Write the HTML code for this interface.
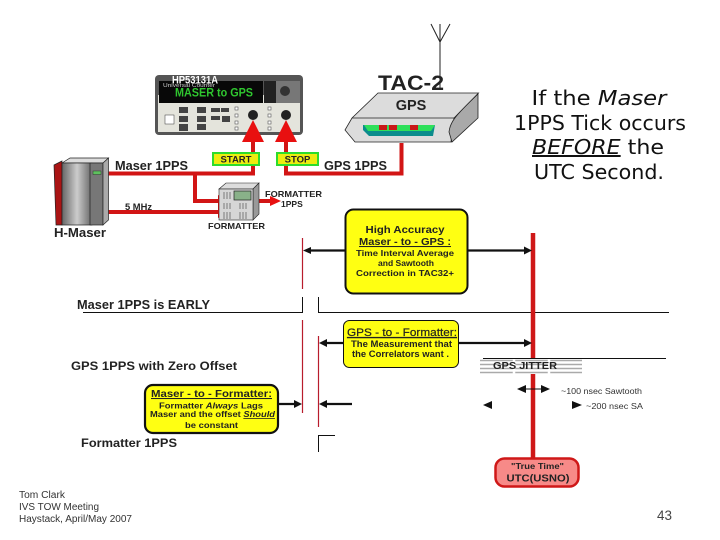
<!DOCTYPE html>
<html><head><meta charset="utf-8"><style>
html,body{margin:0;padding:0;background:#fff;width:720px;height:540px;overflow:hidden}
svg{display:block;filter:blur(.35px)}
text{font-family:"Liberation Sans",sans-serif}
.b{font-weight:bold}
</style></head><body>
<svg width="720" height="540" viewBox="0 0 720 540" xmlns="http://www.w3.org/2000/svg">
<defs>
<linearGradient id="mg" x1="0" x2="1" y1="0" y2="0"><stop offset="0" stop-color="#666"/><stop offset=".5" stop-color="#ccc"/><stop offset="1" stop-color="#666"/></linearGradient>
</defs>
<!-- Antenna -->
<g stroke="#222" fill="none" stroke-width="1"><path d="M440 90V24M431 24L440 42L450 24"/></g>
<!-- Counter -->
<rect x="155" y="75" width="148" height="60" rx="4" fill="#555"/>
<rect x="158" y="95" width="142" height="37" fill="#e4e4dc"/>
<rect x="159" y="81" width="104" height="22" fill="#080808"/>
<rect x="264" y="81" width="36" height="22" fill="#777"/>
<rect x="264" y="81" width="12" height="22" fill="#222"/>
<circle cx="285" cy="91" r="5" fill="#333"/>
<g fill="#444"><rect x="179" y="107" width="9" height="6"/><rect x="197" y="107" width="9" height="6"/><rect x="179" y="116" width="9" height="6"/><rect x="197" y="116" width="9" height="6"/><rect x="179" y="124" width="9" height="7"/><rect x="197" y="124" width="9" height="6"/><rect x="211" y="108" width="9" height="4"/><rect x="211" y="116" width="9" height="4"/><rect x="221" y="108" width="8" height="4"/><rect x="222" y="116" width="8" height="6"/></g>
<rect x="165" y="115" width="9" height="9" fill="#fff" stroke="#333" stroke-width=".5"/>
<g fill="#fff" stroke="#555" stroke-width=".6"><rect x="235" y="107" width="3" height="3"/><rect x="235" y="114" width="3" height="3"/><rect x="235" y="121" width="3" height="3"/><rect x="235" y="127" width="3" height="3"/><rect x="268" y="107" width="3" height="3"/><rect x="268" y="114" width="3" height="3"/><rect x="268" y="121" width="3" height="3"/><rect x="268" y="127" width="3" height="3"/></g>
<circle cx="253" cy="115" r="5" fill="#222"/><circle cx="286" cy="115" r="5" fill="#222"/>
<text x="172" y="83.500" font-size="11" class="b" fill="#fff" textLength="46" lengthAdjust="spacingAndGlyphs">HP53131A</text>
<text x="163" y="87" font-size="5" fill="#ccc" textLength="52" lengthAdjust="spacingAndGlyphs">Universal Counter</text>
<text x="175" y="96.500" font-size="12" class="b" fill="#2fc62f" textLength="78" lengthAdjust="spacingAndGlyphs">MASER to GPS</text>
<!-- Red wires -->
<g fill="none" stroke="#d21515" stroke-width="4">
<path d="M108 173.500H253V140"/><path d="M286 140V173.500H401.500V143"/><path d="M195 173V201H220"/><path d="M107 212H218"/><path d="M258 201H272"/>
</g>
<g fill="#e81010"><path d="M253 120L242 142H264Z"/><path d="M286 120L275 142H297Z"/><path d="M218 195V207L229 201Z"/><path d="M218 206V218L229 212Z"/><path d="M270 196V206L281 201Z"/></g>
<!-- Start / Stop -->
<rect x="213" y="153" width="46" height="12" fill="#ecec10" stroke="#2ddc2d" stroke-width="2"/>
<rect x="277" y="153" width="41" height="12" fill="#ecec10" stroke="#2ddc2d" stroke-width="2"/>
<text x="236" y="162.500" font-size="9.500" class="b" text-anchor="middle" fill="#222">START</text>
<text x="297.500" y="162.500" font-size="9.500" class="b" text-anchor="middle" fill="#222">STOP</text>
<!-- H-Maser -->
<path d="M54 165L62 161V225H56Z" fill="#aa1414" stroke="#222" stroke-width=".7"/>
<path d="M62 163L70 158H108.500L103 163Z" fill="#ddd" stroke="#222" stroke-width=".7"/>
<rect x="62" y="163" width="30" height="62" fill="url(#mg)" stroke="#222" stroke-width=".7"/>
<rect x="90" y="163" width="13" height="62" fill="#777" stroke="#222" stroke-width=".7"/>
<path d="M103 163L108.500 158V220L103 225Z" fill="#aaa" stroke="#222" stroke-width=".7"/>
<rect x="93" y="171" width="8" height="3.500" fill="#5ec05e" stroke="#222" stroke-width=".4"/>
<!-- Formatter -->
<path d="M219 189L226 183H259L253 189Z" fill="#ddd" stroke="#222" stroke-width=".6"/>
<path d="M253 189L259 183V214L253 220Z" fill="#999" stroke="#222" stroke-width=".6"/>
<rect x="219" y="189" width="34" height="31" fill="#d6d6d6" stroke="#222" stroke-width=".6"/>
<rect x="234" y="191" width="17" height="9" fill="#89b189" stroke="#222" stroke-width=".7"/>
<g stroke="#555" stroke-width=".7"><path d="M224 192v7M227 192v7M230 192v7M224 203v6M227 203v6M230 203v6M240 203v6M243 203v6M246 203v6M224 212v7M227 212v7M230 212v7M240 212v7M243 212v7M246 212v7"/></g>
<!-- Device TAC-2 -->
<path d="M378 93H478.500L454 118L451 142H355L345 130L352 118Z" fill="#dcdcdc" stroke="#222" stroke-width=".8"/>
<path d="M478 93V118L452 142L449 132C450 122 455 116 478 94Z" fill="#a9a9a9" stroke="#222" stroke-width=".8"/>
<path d="M352 118H454" stroke="#222" fill="none" stroke-width=".8"/>
<path d="M363 125H435L433 136H369L363 130Z" fill="#0b8c8c"/>
<path d="M364 125H435L431 131H368Z" fill="#2ee05a"/>
<g fill="#c81818"><rect x="379" y="125" width="8" height="5"/><rect x="389" y="125" width="8" height="5"/><rect x="410" y="125" width="8" height="5"/></g>
<text x="378" y="90" font-size="21" class="b" fill="#222" textLength="66" lengthAdjust="spacingAndGlyphs">TAC-2</text>
<text x="411" y="110" font-size="14.500" class="b" text-anchor="middle" fill="#222">GPS</text>
<!-- Wire labels -->
<g fill="#222">
<text x="115" y="170" font-size="12.500" class="b" textLength="73" lengthAdjust="spacingAndGlyphs">Maser 1PPS</text>
<text x="324" y="170" font-size="12.500" class="b" textLength="63" lengthAdjust="spacingAndGlyphs">GPS 1PPS</text>
<text x="125" y="210" font-size="9" class="b" textLength="27" lengthAdjust="spacingAndGlyphs">5 MHz</text>
<text x="54" y="237" font-size="13" class="b" textLength="52" lengthAdjust="spacingAndGlyphs">H-Maser</text>
<text x="208" y="229" font-size="8.500" class="b" textLength="57" lengthAdjust="spacingAndGlyphs">FORMATTER</text>
<text x="265" y="197" font-size="8.500" class="b" textLength="57" lengthAdjust="spacingAndGlyphs">FORMATTER</text>
<text x="281" y="207" font-size="8.500" class="b">1PPS</text>
<text x="77" y="309" font-size="12.500" class="b" textLength="133" lengthAdjust="spacingAndGlyphs">Maser 1PPS is EARLY</text>
<text x="71" y="370" font-size="12" class="b" textLength="166" lengthAdjust="spacingAndGlyphs">GPS 1PPS with Zero Offset</text>
<text x="81" y="447" font-size="12" class="b" textLength="96" lengthAdjust="spacingAndGlyphs">Formatter 1PPS</text>
</g>
<!-- Right caption -->
<g font-size="20" fill="#111" text-anchor="middle">
<text x="599" y="105" style="font-family:'DejaVu Sans',sans-serif" textLength="135" lengthAdjust="spacingAndGlyphs">If the <tspan font-style="italic">Maser</tspan></text>
<text x="600" y="130" style="font-family:'DejaVu Sans',sans-serif" textLength="172" lengthAdjust="spacingAndGlyphs">1PPS Tick occurs</text>
<text x="598" y="154" style="font-family:'DejaVu Sans',sans-serif" textLength="132" lengthAdjust="spacingAndGlyphs"><tspan font-style="italic" text-decoration="underline">BEFORE</tspan>  the</text>
<text x="599" y="179" style="font-family:'DejaVu Sans',sans-serif" textLength="130" lengthAdjust="spacingAndGlyphs">UTC Second.</text>
</g>
<!-- Timing lines -->
<g fill="none" stroke="#111" stroke-width="1">
<path d="M83 312.500H302.500V297"/><path d="M318.500 297V312.500H669"/><path d="M318.500 452V435.500H335"/>
</g>
<path d="M302.500 238V289M302.500 320V413M318.500 336V427" stroke="#b81c2c" stroke-width="1.200" fill="none"/>
<path d="M533 233V458" stroke="#cf1818" stroke-width="4.500" fill="none"/>
<path d="M483 358.500H666" stroke="#111" stroke-width="1" fill="none"/>
<!-- Black arrows -->
<g fill="none" stroke="#111" stroke-width="2.200">
<path d="M308 250.500H345"/><path d="M468 250.500H526"/><path d="M325 343H345"/><path d="M458 343H526"/><path d="M278 404H296"/><path d="M325 404H352"/>
</g>
<g fill="#111">
<path d="M303 250.500L311 247V254Z"/>
<path d="M524 246.500V254.500L532 250.500Z"/><path d="M319 343L327 339V347Z"/><path d="M524 339V347L532 343Z"/><path d="M294 400V408L302 404Z"/><path d="M319 404L327 400V408Z"/>
<path d="M483 405L492 401V409Z"/><path d="M572 401V409L582 405Z"/>
<path d="M517 389L526 385V393Z"/><path d="M541 385V393L550 389Z"/>
</g>
<path d="M520 389H548" stroke="#111" stroke-width="1"/>
<!-- Yellow boxes -->
<rect x="345.500" y="209.500" width="122" height="84" rx="8" fill="#ffff12" stroke="#111" stroke-width="2"/>
<rect x="343.500" y="320.500" width="115" height="47" rx="6" fill="#ffff12" stroke="#111" stroke-width="1"/>
<rect x="145" y="385" width="133" height="48" rx="8" fill="#ffff12" stroke="#111" stroke-width="2.200"/>
<g fill="#222" text-anchor="middle">
<text x="405" y="233" font-size="10.500" class="b" textLength="79" lengthAdjust="spacingAndGlyphs">High Accuracy</text>
<text x="405" y="245" font-size="10.500" class="b" text-decoration="underline" textLength="92" lengthAdjust="spacingAndGlyphs">Maser - to - GPS :</text>
<text x="405" y="256" font-size="8.500" class="b" textLength="98" lengthAdjust="spacingAndGlyphs">Time Interval Average</text>
<text x="406" y="266" font-size="8.500" class="b" textLength="56" lengthAdjust="spacingAndGlyphs">and Sawtooth</text>
<text x="405" y="276" font-size="8.500" class="b" textLength="98" lengthAdjust="spacingAndGlyphs">Correction  in TAC32+</text>
<text x="402" y="336" font-size="11" text-decoration="underline" stroke="#222" stroke-width=".2" textLength="110" lengthAdjust="spacingAndGlyphs">GPS - to - Formatter:</text>
<text x="401.500" y="347" font-size="9" class="b" textLength="101" lengthAdjust="spacingAndGlyphs">The Measurement that</text>
<text x="400.500" y="357" font-size="9" class="b" textLength="97" lengthAdjust="spacingAndGlyphs">the Correlators want .</text>
<text x="211.500" y="397" font-size="10.500" class="b" text-decoration="underline" textLength="121" lengthAdjust="spacingAndGlyphs">Maser - to -  Formatter:</text>
<text x="211" y="408.500" font-size="8.500" class="b" textLength="104" lengthAdjust="spacingAndGlyphs">Formatter <tspan font-style="italic">Always</tspan> Lags</text>
<text x="212.500" y="417" font-size="8" class="b" textLength="125" lengthAdjust="spacingAndGlyphs">Maser and the offset <tspan font-style="italic" text-decoration="underline">Should</tspan></text>
<text x="211.500" y="428" font-size="8.500" class="b" textLength="53" lengthAdjust="spacingAndGlyphs">be constant</text>
</g>
<!-- Jitter -->
<rect x="480" y="359" width="102" height="15" fill="#fff"/>
<g stroke="#aaa" stroke-width="1.500"><path d="M480 360.500H582M480 364.500H582M480 368.500H582M480 372.500H582"/></g>
<path d="M514 359V374M549 359V374" stroke="#fff" stroke-width="2.500"/>
<text x="525" y="369" font-size="10.500" class="b" text-anchor="middle" fill="#222" textLength="64" lengthAdjust="spacingAndGlyphs">GPS JITTER</text>
<text x="561" y="394" font-size="8.500" fill="#333" textLength="81" lengthAdjust="spacingAndGlyphs">~100 nsec Sawtooth</text>
<text x="586" y="409" font-size="8.500" fill="#333" textLength="57" lengthAdjust="spacingAndGlyphs">~200 nsec SA</text>
<!-- UTC -->
<rect x="495.500" y="458.500" width="83" height="28" rx="9" fill="#f78a88" stroke="#cf1818" stroke-width="2.500"/>
<text x="537.500" y="469" font-size="8" class="b" text-anchor="middle" fill="#222" textLength="53" lengthAdjust="spacingAndGlyphs">"True Time"</text>
<text x="538" y="481.500" font-size="10.500" class="b" text-anchor="middle" fill="#222" textLength="63" lengthAdjust="spacingAndGlyphs">UTC(USNO)</text>
<!-- Footer -->
<g font-size="10" fill="#333"><text x="19" y="498" textLength="46" lengthAdjust="spacingAndGlyphs">Tom Clark</text><text x="19" y="510" textLength="80" lengthAdjust="spacingAndGlyphs">IVS TOW Meeting</text><text x="19" y="522" textLength="113" lengthAdjust="spacingAndGlyphs">Haystack, April/May 2007</text></g>
<text x="657" y="520" font-size="13.500" fill="#444" textLength="15" lengthAdjust="spacingAndGlyphs">43</text>
</svg>
</body></html>
